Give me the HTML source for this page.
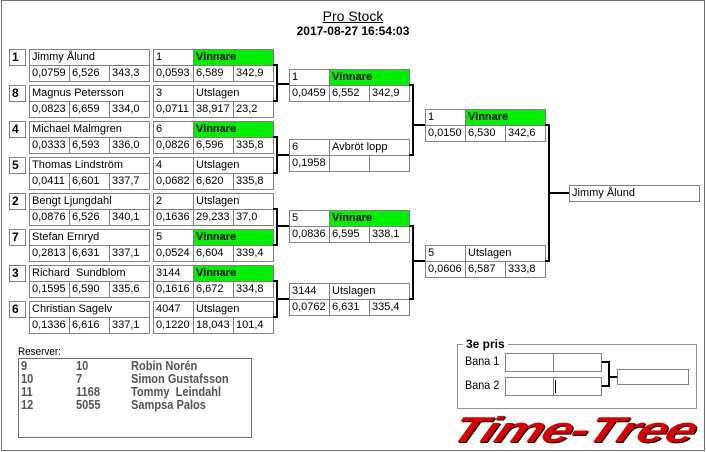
<!DOCTYPE html>
<html><head><meta charset="utf-8"><style>
*{margin:0;padding:0;box-sizing:border-box}
body{width:706px;height:452px;background:#fff;position:relative;overflow:hidden;font-family:"Liberation Sans",Arial,sans-serif;font-size:11px;color:#000}
.frame{position:absolute;left:1px;top:0;width:704px;height:451px;border:1px solid #707070}
.m{position:absolute;width:121px;height:33px}
.c{position:absolute;height:17px;border:1px solid #808080;background:#fff;padding-left:2px;line-height:15px;white-space:nowrap;overflow:hidden}
.t{top:0}.u{top:16px}
.p0{left:0;width:41px}.p1{left:40px;width:41px}.p2{left:80px;width:41px}
.b1{left:40px;width:81px}.n{left:0;width:121px}
.g{background:#00ee00;font-weight:bold;border-color:#808080}
.s{position:absolute;left:9px;width:17px;height:17px;border:1px solid #808080;font-weight:bold;font-size:12px;line-height:15px;padding-left:2px}
.res{position:absolute;font-size:13px;font-weight:bold;color:#555;transform:scaleX(0.85);transform-origin:0 0;white-space:nowrap}
</style></head><body>
<div class="frame"></div>
<div style="position:absolute;left:0;width:706px;top:8px;text-align:center;font-size:14px;text-decoration:underline">Pro Stock</div>
<div style="position:absolute;left:0;width:706px;top:24px;text-align:center;font-size:12px;font-weight:bold">2017-08-27 16:54:03</div>

<div class="s" style="top:49px">1</div>
<div class="s" style="top:85px">8</div>
<div class="s" style="top:121px">4</div>
<div class="s" style="top:157px">5</div>
<div class="s" style="top:193px">2</div>
<div class="s" style="top:229px">7</div>
<div class="s" style="top:265px">3</div>
<div class="s" style="top:301px">6</div>

<div class="m" style="left:29px;top:49px"><div class="c t n">Jimmy Ålund</div><div class="c u p0">0,0759</div><div class="c u p1">6,526</div><div class="c u p2">343,3</div></div>
<div class="m" style="left:29px;top:85px"><div class="c t n">Magnus Petersson</div><div class="c u p0">0,0823</div><div class="c u p1">6,659</div><div class="c u p2">334,0</div></div>
<div class="m" style="left:29px;top:121px"><div class="c t n">Michael Malmgren</div><div class="c u p0">0,0333</div><div class="c u p1">6,593</div><div class="c u p2">336,0</div></div>
<div class="m" style="left:29px;top:157px"><div class="c t n">Thomas Lindström</div><div class="c u p0">0,0411</div><div class="c u p1">6,601</div><div class="c u p2">337,7</div></div>
<div class="m" style="left:29px;top:193px"><div class="c t n">Bengt Ljungdahl</div><div class="c u p0">0,0876</div><div class="c u p1">6,526</div><div class="c u p2">340,1</div></div>
<div class="m" style="left:29px;top:229px"><div class="c t n">Stefan Ernryd</div><div class="c u p0">0,2813</div><div class="c u p1">6,631</div><div class="c u p2">337,1</div></div>
<div class="m" style="left:29px;top:265px"><div class="c t n">Richard &nbsp;Sundblom</div><div class="c u p0">0,1595</div><div class="c u p1">6,590</div><div class="c u p2">335,6</div></div>
<div class="m" style="left:29px;top:301px"><div class="c t n">Christian Sagelv</div><div class="c u p0">0,1336</div><div class="c u p1">6,616</div><div class="c u p2">337,1</div></div>

<div class="m" style="left:153px;top:49px"><div class="c t p0">1</div><div class="c t b1 g">Vinnare</div><div class="c u p0">0,0593</div><div class="c u p1">6,589</div><div class="c u p2">342,9</div></div>
<div class="m" style="left:153px;top:85px"><div class="c t p0">3</div><div class="c t b1">Utslagen</div><div class="c u p0">0,0711</div><div class="c u p1">38,917</div><div class="c u p2">23,2</div></div>
<div class="m" style="left:153px;top:121px"><div class="c t p0">6</div><div class="c t b1 g">Vinnare</div><div class="c u p0">0,0826</div><div class="c u p1">6,596</div><div class="c u p2">335,8</div></div>
<div class="m" style="left:153px;top:157px"><div class="c t p0">4</div><div class="c t b1">Utslagen</div><div class="c u p0">0,0682</div><div class="c u p1">6,620</div><div class="c u p2">335,8</div></div>
<div class="m" style="left:153px;top:193px"><div class="c t p0">2</div><div class="c t b1">Utslagen</div><div class="c u p0">0,1636</div><div class="c u p1">29,233</div><div class="c u p2">37,0</div></div>
<div class="m" style="left:153px;top:229px"><div class="c t p0">5</div><div class="c t b1 g">Vinnare</div><div class="c u p0">0,0524</div><div class="c u p1">6,604</div><div class="c u p2">339,4</div></div>
<div class="m" style="left:153px;top:265px"><div class="c t p0">3144</div><div class="c t b1 g">Vinnare</div><div class="c u p0">0,1616</div><div class="c u p1">6,672</div><div class="c u p2">334,8</div></div>
<div class="m" style="left:153px;top:301px"><div class="c t p0">4047</div><div class="c t b1">Utslagen</div><div class="c u p0">0,1220</div><div class="c u p1">18,043</div><div class="c u p2">101,4</div></div>

<div class="m" style="left:289px;top:69px"><div class="c t p0">1</div><div class="c t b1 g">Vinnare</div><div class="c u p0">0,0459</div><div class="c u p1">6,552</div><div class="c u p2">342,9</div></div>
<div class="m" style="left:289px;top:139px"><div class="c t p0">6</div><div class="c t b1">Avbröt lopp</div><div class="c u p0">0,1958</div><div class="c u p1"></div><div class="c u p2"></div></div>
<div class="m" style="left:289px;top:210px"><div class="c t p0">5</div><div class="c t b1 g">Vinnare</div><div class="c u p0">0,0836</div><div class="c u p1">6,595</div><div class="c u p2">338,1</div></div>
<div class="m" style="left:289px;top:283px"><div class="c t p0">3144</div><div class="c t b1">Utslagen</div><div class="c u p0">0,0762</div><div class="c u p1">6,631</div><div class="c u p2">335,4</div></div>

<div class="m" style="left:425px;top:109px"><div class="c t p0">1</div><div class="c t b1 g">Vinnare</div><div class="c u p0">0,0150</div><div class="c u p1">6,530</div><div class="c u p2">342,6</div></div>
<div class="m" style="left:425px;top:245px"><div class="c t p0">5</div><div class="c t b1">Utslagen</div><div class="c u p0">0,0606</div><div class="c u p1">6,587</div><div class="c u p2">333,8</div></div>

<div class="c" style="left:569px;top:185px;width:131px">Jimmy Ålund</div>

<svg width="706" height="452" style="position:absolute;left:0;top:0" fill="none" stroke="#000" stroke-width="2">
<path d="M273 65H277V101H273M277 84H289"/>
<path d="M273 137H277V173H273M277 155H289"/>
<path d="M273 209H277V245H273M277 226H289"/>
<path d="M273 281H277V317H273M277 299H289"/>
<path d="M409 85H413V155H409M413 125H425"/>
<path d="M409 226H413V299H409M413 261H425"/>
<path d="M545 125H549V261H545M549 193H569"/>
<path d="M602 362H609V386H602M609 377H617"/>
<rect x="457.5" y="344.5" width="239" height="64" stroke="#909090" stroke-width="1"/>
</svg>
<div style="position:absolute;left:463px;top:337px;background:#fff;padding:0 3px;font-weight:bold;font-size:12px">3e pris</div>
<div style="position:absolute;left:465px;top:354px;font-size:12px;transform:scaleX(0.9);transform-origin:0 0">Bana 1</div>
<div style="position:absolute;left:465px;top:378px;font-size:12px;transform:scaleX(0.9);transform-origin:0 0">Bana 2</div>
<div class="c" style="left:505px;top:353px;width:49px;height:19px"></div>
<div class="c" style="left:553px;top:353px;width:49px;height:19px"></div>
<div class="c" style="left:505px;top:377px;width:49px;height:19px"></div>
<div class="c" style="left:553px;top:377px;width:49px;height:19px"></div>
<div style="position:absolute;left:555px;top:380px;width:1px;height:13px;background:#000"></div>
<div class="c" style="left:617px;top:369px;width:72px;height:16px"></div>

<div style="position:absolute;left:18px;top:346px;font-size:11px;transform:scaleX(0.9);transform-origin:0 0">Reserver:</div>
<div style="position:absolute;left:18px;top:358px;width:234px;height:80px;border:1px solid #707070"></div>
<div class="res" style="left:21px;top:358px">9</div><div class="res" style="left:76px;top:358px">10</div><div class="res" style="left:131px;top:358px">Robin Norén</div>
<div class="res" style="left:21px;top:371px">10</div><div class="res" style="left:76px;top:371px">7</div><div class="res" style="left:131px;top:371px">Simon Gustafsson</div>
<div class="res" style="left:21px;top:384px">11</div><div class="res" style="left:76px;top:384px">1168</div><div class="res" style="left:131px;top:384px">Tommy &nbsp;Leindahl</div>
<div class="res" style="left:21px;top:397px">12</div><div class="res" style="left:76px;top:397px">5055</div><div class="res" style="left:131px;top:397px">Sampsa Palos</div>

<div style="position:absolute;left:462px;top:409px;font-size:36px;font-weight:bold;font-style:italic;color:#d40000;letter-spacing:-1px;transform:scaleX(1.5) skewX(-16deg);transform-origin:0 0;text-shadow:1px 1px 0 #000;white-space:nowrap">Time-Tree</div>
</body></html>
